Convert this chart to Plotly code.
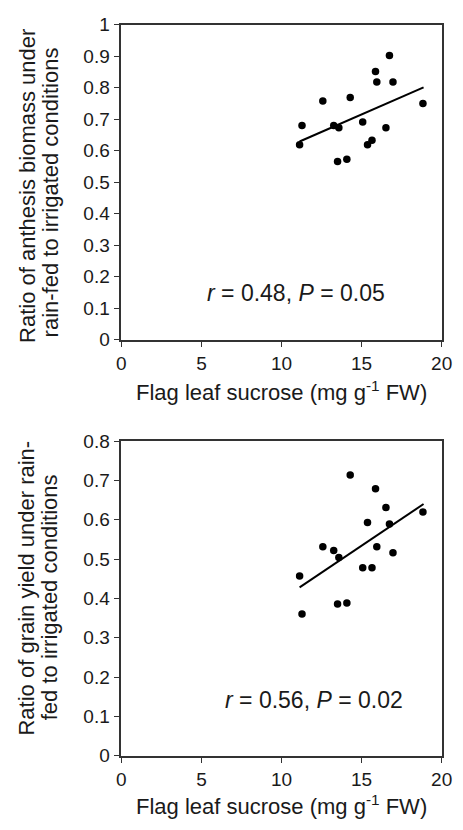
import plotly.graph_objects as go

# ---- data ----
sucrose = [11.13, 11.28, 12.58, 13.26, 13.58, 13.50, 14.08, 14.29, 15.07,
           15.37, 15.65, 15.87, 15.95, 16.52, 16.74, 16.96, 18.83]
biomass_ratio = [0.619, 0.680, 0.758, 0.680, 0.673, 0.566, 0.573, 0.769, 0.691,
                 0.619, 0.633, 0.851, 0.818, 0.673, 0.902, 0.818, 0.750]
yield_ratio = [0.457, 0.360, 0.531, 0.522, 0.504, 0.386, 0.388, 0.714, 0.478,
               0.593, 0.478, 0.679, 0.531, 0.631, 0.589, 0.516, 0.620]

trend_x = [11.13, 18.87]
trend_biomass = [0.629, 0.801]
trend_yield = [0.428, 0.640]

x_ticks = [0, 5, 10, 15, 20]
stats_top = "<i>r</i> = 0.48, <i>P</i> = 0.05"
stats_bottom = "<i>r</i> = 0.56, <i>P</i> = 0.02"
ytitle_top = ["Ratio of anthesis biomass under", "rain-fed to irrigated conditions"]
ytitle_bottom = ["Ratio of grain yield under rain-", "fed to irrigated conditions"]
xtitle = "Flag leaf sucrose (mg g<sup>-1</sup> FW)"

W, H = 463, 830
FONT = "Liberation Sans, Arial, sans-serif"
INK = "#1a1a1a"
AX = "#333333"

fig = go.Figure()

marker = dict(color="black", size=7.5)
fig.add_trace(go.Scatter(x=sucrose, y=biomass_ratio, mode="markers", marker=marker,
                         xaxis="x", yaxis="y", showlegend=False))
fig.add_trace(go.Scatter(x=trend_x, y=trend_biomass, mode="lines",
                         line=dict(color="black", width=2),
                         xaxis="x", yaxis="y", showlegend=False))
fig.add_trace(go.Scatter(x=sucrose, y=yield_ratio, mode="markers", marker=marker,
                         xaxis="x2", yaxis="y2", showlegend=False))
fig.add_trace(go.Scatter(x=trend_x, y=trend_yield, mode="lines",
                         line=dict(color="black", width=2),
                         xaxis="x2", yaxis="y2", showlegend=False))

xdom = [120.5 / W, 452.3 / W]
ydom_top = [1 - 338.3 / H, 1 - 15 / H]
ydom_bot = [1 - 765 / H, 1 - 442.3 / H]

common = dict(showline=True, mirror=True, linecolor=AX, linewidth=1.5,
              ticks="outside", ticklen=6, tickwidth=1.2, tickcolor=AX,
              showgrid=False, zeroline=False,
              tickfont=dict(family=FONT, size=19, color=INK))

fig.update_layout(
    width=W, height=H, margin=dict(l=0, r=0, t=0, b=0),
    paper_bgcolor="white", plot_bgcolor="white",
    xaxis=dict(domain=xdom, range=[0, 20], tickvals=x_ticks, anchor="y", **common),
    yaxis=dict(domain=ydom_top, range=[0, 1], dtick=0.1, anchor="x", **common),
    xaxis2=dict(domain=xdom, range=[0, 20], tickvals=x_ticks, anchor="y2", **common),
    yaxis2=dict(domain=ydom_bot, range=[0, 0.8], dtick=0.1, anchor="x2", **common),
)

ann = []
tfont = dict(family=FONT, size=22, color=INK)
sfont = dict(family=FONT, size=23, color=INK)
# stats text
ann.append(dict(x=10.9, y=0.149, xref="x", yref="y", text=stats_top, showarrow=False,
                font=sfont, xanchor="center", yanchor="middle"))
ann.append(dict(x=12.0, y=0.141, xref="x2", yref="y2", text=stats_bottom, showarrow=False,
                font=sfont, xanchor="center", yanchor="middle"))
# x titles
xc = (xdom[0] + xdom[1]) / 2
ann.append(dict(x=xc, y=1 - 391 / H, xref="paper", yref="paper", text=xtitle, showarrow=False,
                font=tfont, xanchor="center", yanchor="middle"))
ann.append(dict(x=xc, y=1 - 816 / H, xref="paper", yref="paper", text=xtitle, showarrow=False,
                font=tfont, xanchor="center", yanchor="middle"))
# y titles (two lines each)
for txt, px, py in [(ytitle_top[0], 23.3, 180), (ytitle_top[1], 47.3, 187.5),
                    (ytitle_bottom[0], 22.3, 593), (ytitle_bottom[1], 45.6, 602.5)]:
    ann.append(dict(x=px / W, y=1 - py / H, xref="paper", yref="paper", text=txt,
                    showarrow=False, textangle=-90, font=tfont,
                    xanchor="center", yanchor="middle"))
fig.update_layout(annotations=ann)

fig.write_html("out.html")
